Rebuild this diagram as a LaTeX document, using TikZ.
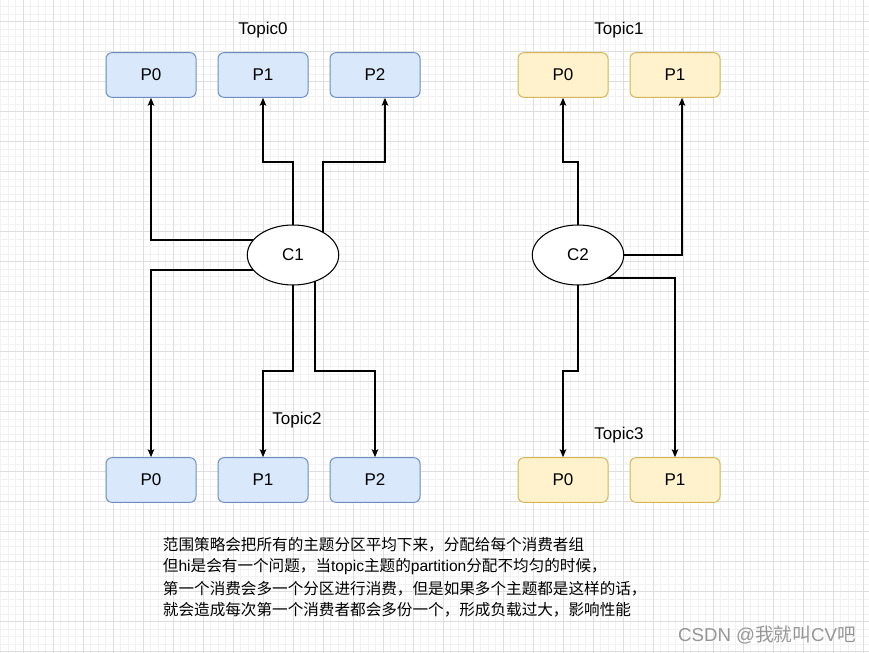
\documentclass[tikz,border=0pt]{standalone}
\usepackage{fontspec}
\setmainfont{Liberation Sans}
\newfontfamily\cjk{Noto Sans CJK SC}
\newfontfamily\latn{Liberation Sans}
\usetikzlibrary{arrows.meta,backgrounds,calc,shapes.geometric}
\definecolor{bfill}{HTML}{DAE8FC}
\definecolor{bline}{HTML}{6C8EBF}
\definecolor{yfill}{HTML}{FFF2CC}
\definecolor{yline}{HTML}{D6B656}
\definecolor{gmajor}{RGB}{222,222,222}
\definecolor{gminor}{RGB}{242,242,242}
\definecolor{wm}{RGB}{150,150,150}
\newcommand\lblfont{\fontsize{12.75pt}{15pt}\selectfont}
\newcommand\cjkfont{\cjk\fontsize{11.7pt}{16pt}\selectfont}
\newcommand\lt[1]{{\latn #1}}
\begin{document}
\begin{tikzpicture}[x=0.75pt,y=-0.75pt,
  pbox/.style={draw, rounded corners=4.5pt, minimum width=67.5pt, minimum height=33.5pt, inner sep=0pt, font=\lblfont, line width=0.75pt},
  bluebox/.style={pbox, fill=bfill, draw=bline},
  yelbox/.style={pbox, fill=yfill, draw=yline},
  cons/.style={draw, ellipse, fill=white, line width=0.8pt, minimum width=68.6pt, minimum height=45pt, inner sep=0pt, font=\lblfont},
  topic/.style={font=\lblfont, inner sep=0pt},
  arr/.style={line width=0.9pt, -{Stealth[length=6pt,width=5pt,inset=1.5pt]}},
  minorgrid/.style={gminor, line width=0.5pt},
  majorgrid/.style={gmajor, line width=0.6pt},
  txt/.style={font=\cjkfont, anchor=west, inner sep=0pt}
]
\useasboundingbox (0,0) rectangle (869,653);

% nodes
\node[bluebox] (t0p0) at (151,75) {P0};
\node[bluebox] (t0p1) at (263,75) {P1};
\node[bluebox] (t0p2) at (375,75) {P2};
\node[bluebox] (b2p0) at (151,480) {P0};
\node[bluebox] (b2p1) at (263,480) {P1};
\node[bluebox] (b2p2) at (375,480) {P2};
\node[yelbox] (t1p0) at (563,75) {P0};
\node[yelbox] (t1p1) at (675,75) {P1};
\node[yelbox] (t3p0) at (563,480) {P0};
\node[yelbox] (t3p1) at (675,480) {P1};
\node[cons] (c1) at (293,255) {C1};
\node[cons] (c2) at (578,255) {C2};

\node[topic] (lt0) at (263,30) {Topic0};
\node[topic] (lt1) at (619,30) {Topic1};
\node[topic] (lt2) at (297,420) {Topic2};
\node[topic] (lt3) at (619,435) {Topic3};

\node[txt] (l1) at (162.7,545) {范围策略会把所有的主题分区平均下来，分配给每个消费者组};
\node[txt] (l2) at (162.7,566.7) {但\lt{hi}是会有一个问题，当\lt{topic}主题的\lt{partition}分配不均匀的时候，};
\node[txt] (l3) at (162.7,588.3) {第一个消费会多一个分区进行消费，但是如果多个主题都是这样的话，};
\node[txt] (l4) at (162.7,609.3) {就会造成每次第一个消费者都会多份一个，形成负载过大，影响性能};

\node[font=\cjk\fontsize{14pt}{16pt}\selectfont, text=wm, inner sep=0pt] (wmk) at (767,635) {\lt{CSDN @}我就叫\lt{CV}吧};

\begin{scope}[on background layer]
  % grid
  \foreach \i in {0,...,115} \draw[minorgrid] ({0.8+7.5*\i},0) -- ({0.8+7.5*\i},653);
  \foreach \j in {0,...,86} \draw[minorgrid] (0,{6.7+7.5*\j}) -- (869,{6.7+7.5*\j});
  \foreach \i in {0,...,28} \draw[majorgrid] ({23.3+30*\i},0) -- ({23.3+30*\i},653);
  \foreach \j in {0,...,21} \draw[majorgrid] (0,{21.7+30*\j}) -- (869,{21.7+30*\j});
  % connectors from C1
  \draw[arr] ($(c1.center)+(0,-15)$) -| (t0p0.south);
  \draw[arr] (c1.center) -- (c1.center |- 0,162) -| (t0p1.south);
  \draw[arr] ($(c1.center)+(30,0)$) -- ($(c1.center)+(30,-93)$) -| ([xshift=7.5pt]t0p2.south);
  \draw[arr] ($(c1.center)+(0,15)$) -| (b2p0.north);
  \draw[arr] (c1.center) -- (c1.center |- 0,371) -| (b2p1.north);
  \draw[arr] ($(c1.center)+(22,0)$) -- ($(c1.center)+(22,116)$) -| (b2p2.north);
  % connectors from C2
  \draw[arr] (c2.center) -- (c2.center |- 0,162) -| (t1p0.south);
  \draw[arr] (c2.center) -| ([xshift=5.25pt]t1p1.south);
  \draw[arr] ($(c2.center)+(0,23)$) -| (t3p1.north);
  \draw[arr] (c2.center) -- (c2.center |- 0,371) -| (t3p0.north);
\end{scope}
\end{tikzpicture}
\end{document}
